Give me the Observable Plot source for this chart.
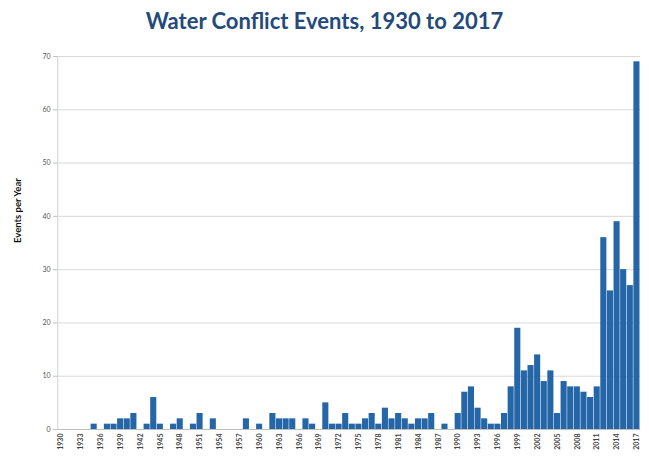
<!DOCTYPE html>
<html>
<head>
<meta charset="utf-8">
<script src="https://cdn.jsdelivr.net/npm/d3@7"></script>
<script src="https://cdn.jsdelivr.net/npm/@observablehq/plot@0.6"></script>
<style>
  body { margin: 0; background: #fff; }
  #title { height: 40px; line-height: 42px; text-align: center; font-family: Lato, sans-serif; font-weight: bold; font-size: 22px; color: #244a7c; }
</style>
</head>
<body>
<div id="title">Water Conflict Events, 1930 to 2017</div>
<div id="chart"></div>
<script>
const years = d3.range(1930, 2018);
const events = [
  0, 0, 0, 0, 0, 1, 0, 1, 1, 2,   // 1930-1939
  2, 3, 0, 1, 6, 1, 0, 1, 2, 0,   // 1940-1949
  1, 3, 0, 2, 0, 0, 0, 0, 2, 0,   // 1950-1959
  1, 0, 3, 2, 2, 2, 0, 2, 1, 0,   // 1960-1969
  5, 1, 1, 3, 1, 1, 2, 3, 1, 4,   // 1970-1979
  2, 3, 2, 1, 2, 2, 3, 0, 1, 0,   // 1980-1989
  3, 7, 8, 4, 2, 1, 1, 3, 8, 19,  // 1990-1999
  11, 12, 14, 9, 11, 3, 9, 8, 8, 7, // 2000-2009
  6, 8, 36, 26, 39, 30, 27, 69    // 2010-2017
];
const tickYears = d3.range(1930, 2018, 3);
const yTicks = d3.range(0, 71, 10);

const data = years.map((y, i) => ({year: y, value: events[i]}));

const chart = Plot.plot({
  width: 649,
  height: 429,
  marginTop: 16,
  marginBottom: 40,
  marginLeft: 57,
  marginRight: 9,
  style: {fontFamily: "Lato, sans-serif", background: "#fff"},
  x: {type: "band", domain: years, padding: 0.08, label: null},
  y: {domain: [0, 70], ticks: yTicks, label: null},
  marks: [
    Plot.gridY(yTicks, {stroke: "#d9d9d9", strokeOpacity: 1}),
    Plot.ruleX([1930], {dx: -3.3, stroke: "#d0d0d0"}),
    Plot.barY(data, {x: "year", y: "value", fill: "#2466a8"}),
    Plot.ruleY([0], {stroke: "#bfbfbf"}),
    Plot.axisY(yTicks, {tickSize: 4, stroke: "#bfbfbf", fill: "#555", fontSize: 7, tickPadding: 3, label: null}),
    Plot.axisX(tickYears, {tickRotate: -90, tickSize: 0, tickPadding: 4, fontSize: 7, fill: "#444", fontWeight: "bold", label: null, tickFormat: d => String(d)}),
    Plot.text(["Events per Year"], {frameAnchor: "left", dx: -40, rotate: -90, fontSize: 9.5, fontWeight: "bold", fill: "#111"})
  ]
});
document.getElementById("chart").appendChild(chart);
</script>
</body>
</html>
